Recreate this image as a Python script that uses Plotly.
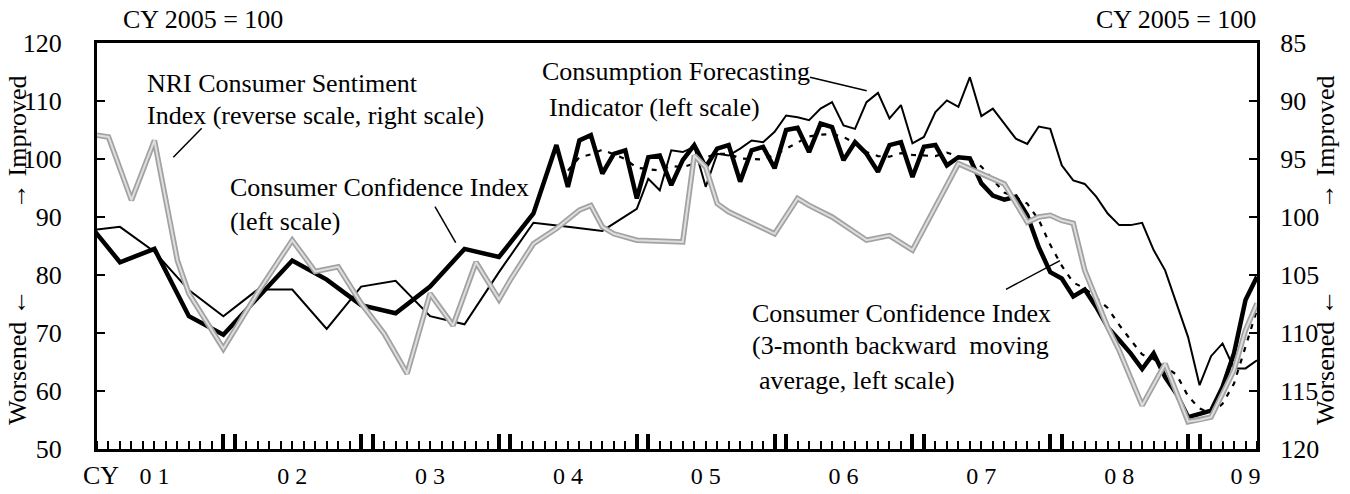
import plotly.graph_objects as go

# ---------------- data (x = months since Jan 2001) ----------------
year_labels = ["0 1", "0 2", "0 3", "0 4", "0 5", "0 6", "0 7", "0 8", "0 9"]
year_label_months = [5, 17, 29, 41, 53, 65, 77, 89, 100]

# Consumer Confidence Index (left scale): quarterly until Mar-2004, then monthly
cci_months = [-1, 2, 5, 8, 11, 14, 17, 20, 23, 26, 29, 32, 35, 38] + list(range(39, 102))
cci_values = [89.5, 82.2, 84.5, 72.9, 69.7, 76.2, 82.5, 79.2, 74.8, 73.4, 78.0, 84.5, 83.1, 90.6,
              96.5, 102.4, 95.2, 103.2, 104.1, 97.5, 100.9, 101.5, 93.2, 100.3,
              100.6, 95.5, 99.8, 102.4, 98.6, 101.8, 102.4, 96.1, 101.5, 102.1,
              98.4, 105.0, 105.4, 101.2, 106.1, 105.5, 99.8, 102.9, 100.9, 97.8,
              102.4, 102.9, 96.9, 102.1, 102.4, 98.9, 100.3, 100.1, 95.8, 93.7,
              93.0, 93.5, 90.3, 84.8, 80.5, 79.4, 76.3, 77.5, 74.5, 71.0,
              68.8, 66.5, 63.8, 66.5, 62.4, 59.5, 55.5, 56.1, 56.6, 60.7,
              66.5, 75.7, 79.7]

# Consumer Confidence Index, 3-month backward moving average (left scale)
ma_months = list(range(41, 102))
ma_values = [98.0, 100.3, 100.8, 101.6, 100.8, 100.0, 98.5, 98.3, 98.0, 98.8,
             98.6, 99.2, 100.3, 100.9, 100.9, 100.1, 100.0, 99.9, 100.7, 101.8,
             102.9, 103.9, 104.2, 104.3, 103.8, 102.7, 101.2, 100.5, 100.4, 101.0,
             100.7, 100.6, 100.5, 101.1, 100.5, 99.8, 98.7, 96.5, 94.2, 93.4,
             92.3, 89.5, 85.2, 81.6, 78.7, 77.7, 76.1, 74.3, 71.4, 68.8,
             66.3, 65.5, 64.2, 62.8, 59.1, 57.0, 56.1, 57.8, 61.3, 67.6, 74.0]

# Consumption Forecasting Indicator (left scale)
cfi_months = [-1, 2, 5, 8, 11, 14, 17, 20, 23, 26, 29, 32, 35, 38, 41, 44, 47] + list(range(48, 102))
cfi_values = [87.6, 88.3, 84.0, 77.4, 72.9, 77.5, 77.5, 70.7, 78.0, 79.0, 72.9, 71.5, 80.5, 89.0,
              88.3, 87.6, 91.4,
              96.6, 94.6, 101.5, 101.2, 102.1, 95.2, 100.9, 100.6, 101.8, 103.2,
              102.9, 104.7, 107.5, 107.2, 106.7, 108.7, 109.8, 105.8, 105.2, 109.8,
              111.4, 107.0, 109.3, 102.7, 103.8, 108.1, 110.1, 109.0, 114.1, 107.4,
              108.7, 106.1, 103.5, 102.6, 105.6, 105.2, 98.9, 96.3, 95.7, 93.5,
              90.6, 88.6, 88.6, 89.0, 84.3, 80.8, 75.1, 69.3, 61.0, 66.0,
              68.2, 63.9, 63.9, 65.3]

# NRI Consumer Sentiment Index (right scale, reversed)
nri_months = [0, 1, 3, 5, 7, 8, 11, 14, 17, 19, 21, 23, 25, 27, 29, 31, 33, 35, 36, 38,
              40, 42, 43, 44, 45, 47, 51, 52, 53, 54, 55, 59, 61, 62, 64, 67, 69, 71,
              75, 76, 79, 81, 82, 83, 84, 85, 86, 88, 89, 91, 93, 95, 96, 97, 98,
              99, 100, 101]
nri_values = [92.95, 93.1, 98.55, 93.4, 103.75, 106.6, 111.35, 106.5, 102.0, 104.7,
              104.3, 107.45, 110.05, 113.5, 106.6, 109.35, 103.9, 107.1, 105.4, 102.3,
              101.0, 99.4, 99.0, 100.85, 101.45, 102.0, 102.15, 94.7, 95.7, 98.85,
              99.55, 101.45, 98.4, 99.0, 100.0, 102.0, 101.6, 102.85, 95.4, 95.85,
              97.15, 100.45, 100.0, 99.85, 100.3, 100.55, 104.6, 109.5, 111.5, 116.25,
              112.65, 117.65, 117.5, 117.25, 115.25, 113.2, 109.75, 107.45]

month_ticks = list(range(0, 102))
year_edge_ticks = [m for y in range(1, 9) for m in (12 * y - 1, 12 * y)]

left_ticks = [50, 60, 70, 80, 90, 100, 110, 120]
right_ticks = [85, 90, 95, 100, 105, 110, 115, 120]

# ---------------- figure ----------------
FONT = "Times New Roman, Liberation Serif, serif"
FS = 26
W, H = 1350, 494
L, R, T, B = 97, 93, 43, 45
PW, PH = W - L - R, H - T - B


def px(x):
    return (x - L) / PW


def py(y):
    return (H - B - y) / PH


fig = go.Figure()

# NRI (grey textured band) – two layers to imitate the stippled look
fig.add_trace(go.Scatter(x=nri_months, y=nri_values, yaxis="y2", mode="lines",
                         line=dict(color="#a2a2a2", width=5.5), hoverinfo="skip"))
fig.add_trace(go.Scatter(x=nri_months, y=nri_values, yaxis="y2", mode="lines",
                         line=dict(color="#dedede", width=2), hoverinfo="skip"))
# Consumption Forecasting Indicator
fig.add_trace(go.Scatter(x=cfi_months, y=cfi_values, mode="lines",
                         line=dict(color="black", width=2)))
# Consumer Confidence Index
fig.add_trace(go.Scatter(x=cci_months, y=cci_values, mode="lines",
                         line=dict(color="black", width=4.5)))
# 3-month moving average
fig.add_trace(go.Scatter(x=ma_months, y=ma_values, mode="lines",
                         line=dict(color="black", width=2.2, dash="5px,7px")))
# invisible trace for the overlay axis carrying the thick year ticks
fig.add_trace(go.Scatter(x=[0], y=[50], xaxis="x2", mode="markers",
                         marker=dict(opacity=0), hoverinfo="skip"))

tickfont = dict(family=FONT, size=FS, color="black")

fig.update_layout(
    width=W, height=H, autosize=False,
    margin=dict(l=L, r=R, t=T, b=B, pad=0, autoexpand=False),
    paper_bgcolor="white", plot_bgcolor="white",
    showlegend=False,
    font=dict(family=FONT, size=FS, color="black"),
    xaxis=dict(range=[0, 101], showgrid=False, zeroline=False, automargin=False,
               showline=True, linecolor="black", linewidth=3, mirror=True,
               tickvals=year_label_months, ticktext=year_labels, ticks="",
               tickfont=dict(family=FONT, size=24, color="black"),
               ticklabelstandoff=3,
               minor=dict(tickvals=month_ticks, ticks="inside", ticklen=8,
                          tickwidth=1.5, tickcolor="black")),
    xaxis2=dict(range=[0, 101], overlaying="x", anchor="y", side="bottom",
                showgrid=False, zeroline=False, showline=False, automargin=False,
                tickvals=year_edge_ticks, ticks="inside", ticklen=15,
                tickwidth=4, tickcolor="black", showticklabels=False),
    yaxis=dict(range=[50, 120], showgrid=False, zeroline=False, automargin=False,
               showline=True, linecolor="black", linewidth=3,
               tickvals=left_ticks, ticks="inside", ticklen=8, tickwidth=2,
               tickcolor="black", tickfont=tickfont, ticklabelstandoff=27),
    yaxis2=dict(range=[120, 85], overlaying="y", side="right", anchor="x",
                showgrid=False, zeroline=False, automargin=False,
                showline=True, linecolor="black", linewidth=3,
                tickvals=right_ticks, ticks="inside", ticklen=8, tickwidth=2,
                tickcolor="black", tickfont=tickfont, ticklabelstandoff=15),
)

ann = []


def text(t, x, y, xanchor="left", angle=0):
    ann.append(dict(text=t, x=px(x), y=py(y), xref="paper", yref="paper",
                    xanchor=xanchor, yanchor="middle", showarrow=False,
                    textangle=angle, font=dict(family=FONT, size=FS, color="black")))


text("CY 2005 = 100", 203, 20, "center")
text("CY 2005 = 100", 1258, 20, "right")
text("CY", 101, 475, "center")

text("NRI Consumer Sentiment", 145, 83)
text("Index (reverse scale, right scale)", 145, 116)
text("Consumer Confidence Index", 228, 187)
text("(left scale)", 228, 221)
text("Consumption Forecasting", 540, 72)
text("Indicator (left scale)", 547, 107)
text("Consumer Confidence Index", 750, 313)
text("(3-month backward\u00a0 moving", 750, 346)
text("average, left scale)", 757, 380)

text("\u2192 Improved", 17, 142, "center", -90)
text("Worsened \u2190", 17, 357, "center", -90)
text("\u2192 Improved", 1325, 142, "center", -90)
text("Worsened \u2190", 1325, 357, "center", -90)

fig.update_layout(annotations=ann)

leaders = [((201.7, 128.3), (173.3, 157.3)),
           ((435.0, 206.7), (455.7, 242.7)),
           ((810.0, 77.3), (866.7, 90.7)),
           ((1006.0, 289.3), (1060.0, 260.7))]
for (x0, y0), (x1, y1) in leaders:
    fig.add_shape(type="line", xref="paper", yref="paper",
                  x0=px(x0), y0=py(y0), x1=px(x1), y1=py(y1),
                  line=dict(color="black", width=1.5))

fig.write_html("out.html", config={"displayModeBar": False},
               post_script="document.body.style.margin='0';")
